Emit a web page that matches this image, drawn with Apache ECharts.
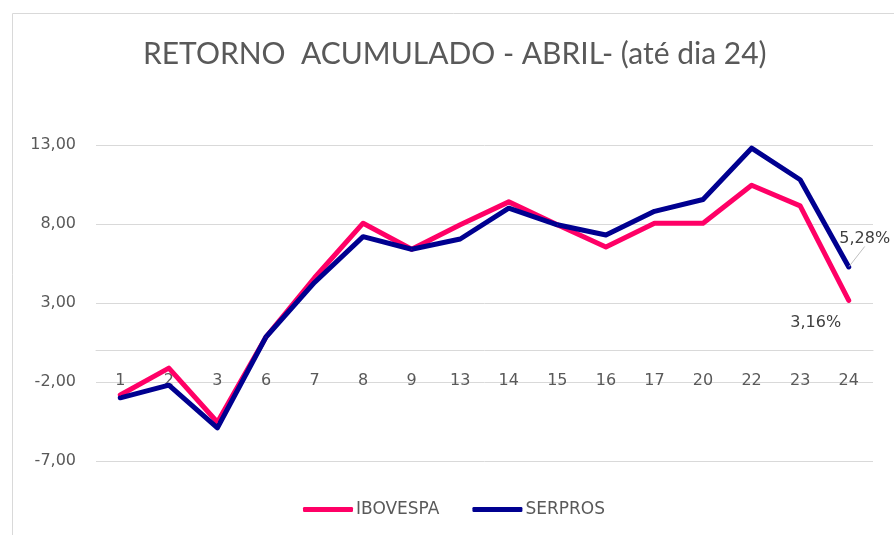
<!DOCTYPE html>
<html>
<head>
<meta charset="utf-8">
<script src="https://cdn.jsdelivr.net/npm/echarts@6/dist/echarts.min.js"></script>
<style>
  html, body { margin: 0; padding: 0; background: #fff; }
  #chart { width: 894px; height: 535px; }
</style>
</head>
<body>
<div id="chart"></div>
<script>
// dias de abril (pregões)
const days = ['1', '2', '3', '6', '7', '8', '9', '13', '14', '15', '16', '17', '20', '22', '23', '24']
const ibovespa = [-2.82, -1.12, -4.55, 0.85, 4.6, 8.05, 6.4, 7.95, 9.4, 7.95, 6.55, 8.05, 8.05, 10.45, 9.15, 3.16]
const serpros = [-3.0, -2.2, -4.9, 0.85, 4.3, 7.2, 6.4, 7.05, 9.0, 7.95, 7.3, 8.8, 9.55, 12.8, 10.8, 5.28]
const yTicks = [-7, -2, 3, 8, 13]

const axisFont = 'DejaVu Sans'
const fmt = v => v.toFixed(2).replace('.', ',')

// so o ultimo ponto leva rotulo
function withEndLabel(values) {
  const last = values.length - 1
  return values.map((v, i) => i === last ? { value: v, label: { show: true } } : v)
}

const chart = echarts.init(document.getElementById('chart'))

chart.setOption({
  animation: false,
  color: ['#FF0066', '#000090'],
  title: {
    text: 'RETORNO  ACUMULADO - ABRIL- (até dia 24)',
    left: 138,
    top: 34,
    textStyle: {
      fontFamily: 'Lato',
      fontSize: 30,
      fontWeight: 'normal',
      color: '#595959'
    }
  },
  graphic: [{
    type: 'rect',
    shape: { x: 12.5, y: 13.5, width: 900, height: 600 },
    style: { fill: 'none', stroke: '#d9d9d9', lineWidth: 1 },
    silent: true,
    z: -1
  }],
  grid: {
    left: 96,
    right: 21,
    top: 145,
    bottom: 74,
    containLabel: false
  },
  legend: {
    left: 303,
    top: 501,
    padding: 0,
    itemWidth: 50,
    itemHeight: 5,
    itemGap: 33,
    icon: 'roundRect',
    selectedMode: false,
    textStyle: {
      fontFamily: axisFont,
      fontSize: 17,
      color: '#595959',
      padding: [0, 0, 0, -2]
    },
    data: ['IBOVESPA', 'SERPROS']
  },
  xAxis: {
    type: 'category',
    data: days,
    boundaryGap: true,
    axisTick: { show: false },
    axisLine: {
      show: true,
      onZero: true,
      lineStyle: { color: '#d9d9d9', width: 1 }
    },
    axisLabel: {
      margin: -88,
      fontFamily: axisFont,
      fontSize: 16,
      color: '#595959'
    }
  },
  yAxis: {
    type: 'value',
    min: yTicks[0],
    max: yTicks[yTicks.length - 1],
    interval: yTicks[1] - yTicks[0],
    axisLine: { show: false },
    axisTick: { show: false },
    splitLine: {
      lineStyle: { color: '#d9d9d9', width: 1 }
    },
    axisLabel: {
      margin: 20,
      fontFamily: axisFont,
      fontSize: 16,
      color: '#595959',
      formatter: v => fmt(v)
    }
  },
  series: [{
    name: 'IBOVESPA',
    type: 'line',
    data: withEndLabel(ibovespa),
    symbol: 'circle',
    symbolSize: 1,
    lineStyle: { width: 5, cap: 'round', join: 'round' },
    label: {
      show: false,
      position: 'bottom',
      offset: [-33, 9],
      fontFamily: axisFont,
      fontSize: 16,
      color: '#404040',
      formatter: p => fmt(p.value) + '%'
    }
  }, {
    name: 'SERPROS',
    type: 'line',
    data: withEndLabel(serpros),
    symbol: 'circle',
    symbolSize: 1,
    lineStyle: { width: 5, cap: 'round', join: 'round' },
    label: {
      show: false,
      position: 'top',
      fontFamily: axisFont,
      fontSize: 16,
      color: '#404040',
      formatter: p => fmt(p.value) + '%'
    },
    labelLayout: { dx: 16, dy: -15 },
    labelLine: {
      show: true,
      lineStyle: { color: '#bfbfbf', width: 1 }
    }
  }]
})
</script>
</body>
</html>
